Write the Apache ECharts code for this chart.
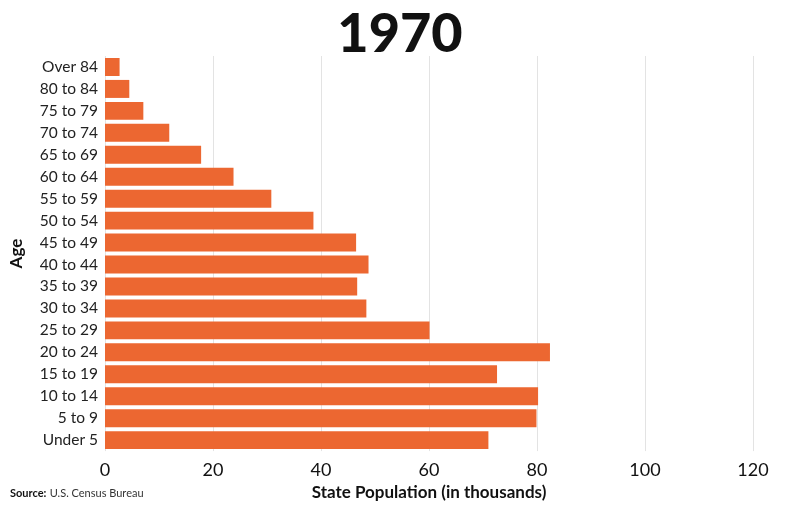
<!DOCTYPE html>
<html><head><meta charset="utf-8">
<script src="https://cdn.jsdelivr.net/npm/echarts@6/dist/echarts.min.js"></script>
<style>html,body{margin:0;padding:0;background:#fff}#c{width:800px;height:506px}</style>
</head><body><div id="c"></div>
<script>
const categories = ["Under 5","5 to 9","10 to 14","15 to 19","20 to 24","25 to 29","30 to 34","35 to 39","40 to 44","45 to 49","50 to 54","55 to 59","60 to 64","65 to 69","70 to 74","75 to 79","80 to 84","Over 84"];
const population = [71.0,79.9,80.2,72.6,82.4,60.1,48.4,46.7,48.8,46.5,38.6,30.8,23.8,17.8,11.9,7.1,4.5,2.7];
const xTicks = [0,20,40,60,80,100,120];
const FONT = "Lato";
const chart = echarts.init(document.getElementById('c'));
chart.setOption({
  animation:false,
  textStyle:{fontFamily:FONT},
  title:{text:"1970",left:"center",top:3,textStyle:{fontFamily:FONT,fontSize:54,fontWeight:900,color:"#111"}},
  graphic:[{type:"text",left:10,top:487,style:{rich:{b:{fontWeight:"bold",fontSize:11,fill:"#111",fontFamily:FONT},n:{fontSize:11,fill:"#333",fontFamily:FONT}},text:"{b|Source:} {n|U.S. Census Bureau}"}}],
  grid:{left:105,right:47,top:56,bottom:54},
  xAxis:{type:"value",min:xTicks[0],max:xTicks[xTicks.length-1],interval:20,
    name:"State Population (in thousands)",nameLocation:"middle",nameGap:29,
    nameTextStyle:{fontSize:17,fontWeight:"bold",color:"#111",fontFamily:FONT},
    axisLine:{show:false},axisTick:{show:false},
    axisLabel:{fontSize:18,color:"#111",margin:10,fontFamily:FONT},
    splitLine:{lineStyle:{color:"#e3e3e3",width:1}}},
  yAxis:{type:"category",data:categories,name:"Age",nameLocation:"middle",nameGap:80,nameRotate:90,
    nameTextStyle:{fontSize:17,fontWeight:"bold",color:"#111",fontFamily:FONT},
    axisLine:{show:false},axisTick:{show:false},
    axisLabel:{fontSize:15.5,color:"#222",margin:7,fontFamily:FONT}},
  series:[{type:"bar",data:population,barCategoryGap:"18%",itemStyle:{color:"#EC6731"}}]
});
</script></body></html>
